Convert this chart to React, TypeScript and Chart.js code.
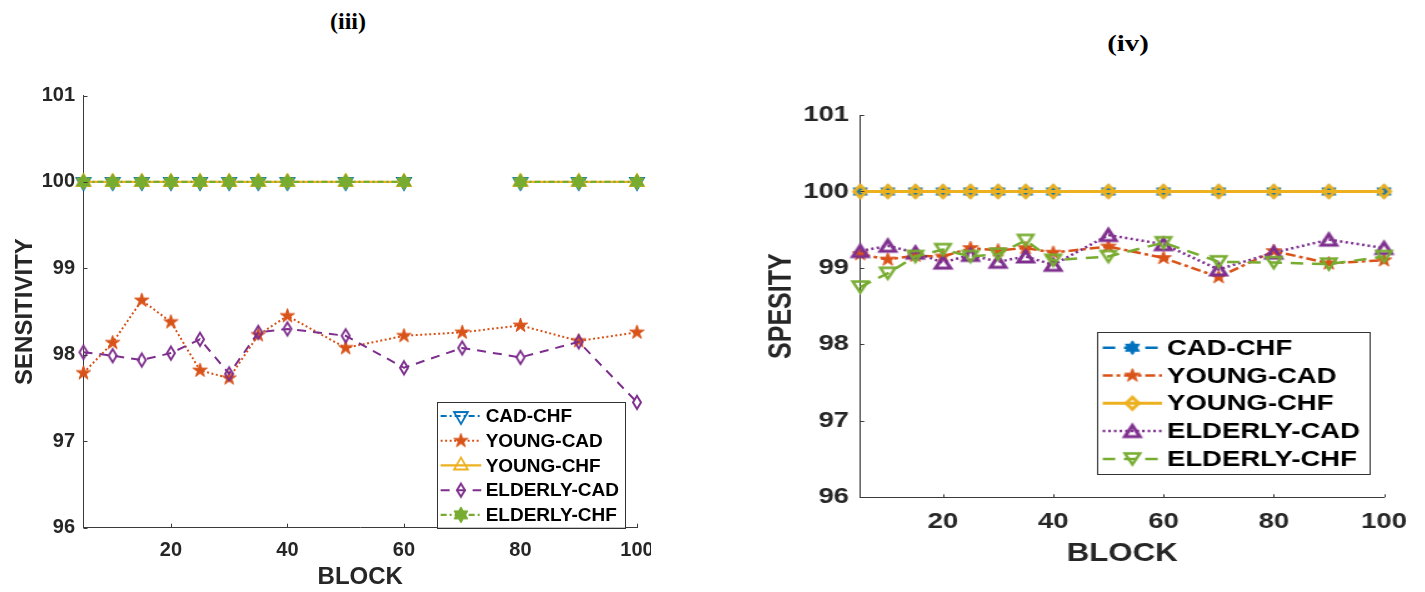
import React, { useEffect, useRef } from "react";
import { Chart, registerables } from "chart.js";

Chart.register(...registerables);

// ---------------- data ----------------
const BLOCKS = [5, 10, 15, 20, 25, 30, 35, 40, 50, 60, 70, 80, 90, 100];
const X_MIN = 5;
const X_MAX = 100;
const X_TICKS = [20, 40, 60, 80, 100];
const Y_MIN = 96;
const Y_MAX = 101;
const Y_TICKS = [96, 97, 98, 99, 100, 101];

const SERIES_NAMES = ["CAD-CHF", "YOUNG-CAD", "YOUNG-CHF", "ELDERLY-CAD", "ELDERLY-CHF"];

// (iii) SENSITIVITY
const SENS_CAD_CHF = [100, 100, 100, 100, 100, 100, 100, 100, 100, 100, null, 100, 100, 100];
const SENS_YOUNG_CAD = [97.79, 98.14, 98.63, 98.38, 97.82, 97.73, 98.23, 98.45, 98.08, 98.22, 98.26, 98.34, 98.16, 98.26];
const SENS_YOUNG_CHF = [100, 100, 100, 100, 100, 100, 100, 100, 100, 100, null, 100, 100, 100];
const SENS_ELDERLY_CAD = [98.03, 97.99, 97.94, 98.02, 98.18, 97.78, 98.26, 98.3, 98.22, 97.85, 98.08, 97.97, 98.15, 97.45];
const SENS_ELDERLY_CHF = [100, 100, 100, 100, 100, 100, 100, 100, 100, 100, null, 100, 100, 100];

// (iv) SPESITY
const SPEC_CAD_CHF = [100, 100, 100, 100, 100, 100, 100, 100, 100, 100, 100, 100, 100, 100];
const SPEC_YOUNG_CAD = [99.18, 99.11, 99.16, 99.15, 99.26, 99.23, 99.26, 99.2, 99.28, 99.13, 98.88, 99.22, 99.06, 99.1];
const SPEC_YOUNG_CHF = [100, 100, 100, 100, 100, 100, 100, 100, 100, 100, 100, 100, 100, 100];
const SPEC_ELDERLY_CAD = [99.22, 99.29, 99.2, 99.07, 99.17, 99.08, 99.15, 99.04, 99.43, 99.31, 98.98, 99.2, 99.37, 99.26];
const SPEC_ELDERLY_CHF = [98.75, 98.93, 99.15, 99.24, 99.15, 99.18, 99.36, 99.1, 99.15, 99.33, 99.08, 99.07, 99.05, 99.15];

// ---------------- styles ----------------
const BLUE = "#0072BD";
const ORANGE = "#D95319";
const YELLOW = "#EDB120";
const PURPLE = "#7E2F8E";
const GREEN = "#77AC30";
const TEXT = "#262626";
const AXIS = "#3a3a3a";
const FONT = "'Liberation Sans', Arial, Helvetica, sans-serif";

type Marker = { shape: string; w: number; h: number; filled: boolean; lw: number };
type Series = { label: string; values: (number | null)[]; color: string; dash: number[]; lw: number; marker: Marker };

const LEFT_SERIES: Series[] = [
  { label: SERIES_NAMES[0], values: SENS_CAD_CHF, color: BLUE, dash: [6, 3, 2, 3], lw: 2, marker: { shape: "eqDown", w: 16, h: 16, filled: false, lw: 1.8 } },
  { label: SERIES_NAMES[1], values: SENS_YOUNG_CAD, color: ORANGE, dash: [2, 2.5], lw: 2, marker: { shape: "star5", w: 15, h: 15, filled: true, lw: 1 } },
  { label: SERIES_NAMES[2], values: SENS_YOUNG_CHF, color: YELLOW, dash: [], lw: 2.2, marker: { shape: "eqUp", w: 16, h: 16, filled: false, lw: 1.8 } },
  { label: SERIES_NAMES[3], values: SENS_ELDERLY_CAD, color: PURPLE, dash: [9, 7], lw: 2, marker: { shape: "diamond", w: 8, h: 13, filled: false, lw: 2 } },
  { label: SERIES_NAMES[4], values: SENS_ELDERLY_CHF, color: GREEN, dash: [6, 3, 2, 3], lw: 2.2, marker: { shape: "star6", w: 16, h: 16, filled: true, lw: 1 } },
];

const RIGHT_SERIES: Series[] = [
  { label: SERIES_NAMES[0], values: SPEC_CAD_CHF, color: BLUE, dash: [10, 7], lw: 2.5, marker: { shape: "star6", w: 13, h: 14, filled: true, lw: 1 } },
  { label: SERIES_NAMES[1], values: SPEC_YOUNG_CAD, color: ORANGE, dash: [8, 3, 3, 3], lw: 2.5, marker: { shape: "star5", w: 13, h: 14, filled: true, lw: 1 } },
  { label: SERIES_NAMES[2], values: SPEC_YOUNG_CHF, color: YELLOW, dash: [], lw: 3, marker: { shape: "diamond", w: 10, h: 12, filled: false, lw: 3 } },
  { label: SERIES_NAMES[3], values: SPEC_ELDERLY_CAD, color: PURPLE, dash: [2, 2.5], lw: 2.5, marker: { shape: "triUp", w: 12, h: 11, filled: false, lw: 3 } },
  { label: SERIES_NAMES[4], values: SPEC_ELDERLY_CHF, color: GREEN, dash: [10, 7], lw: 2.5, marker: { shape: "triDown", w: 12, h: 11, filled: false, lw: 2.4 } },
];

const LEFT_SPEC = {
  series: LEFT_SERIES,
  yTitle: "SENSITIVITY",
  top: 95.5,
  padRight: 14,
  yAxisW: 83.5,
  xAxisH: 64.3,
  tickFontSize: 20,
  titleFontSize: 24,
  tickPadY: 8.5,
  tickPadX: 10.5,
  yTitlePadT: 10.6,
  xTitlePadB: 0,
  tickLenX: 4,
  tickLenY: 4,
  legend: { fontSize: 19, rowH: 24.7, padT: 2, padB: 0.5, padL: 3.7, sampleW: 40.6, gap: 4.4, padR: 6, offRight: 12, offBottom: 0 },
};

const RIGHT_SPEC = {
  series: RIGHT_SERIES,
  yTitle: "SPESITY",
  top: 115,
  padRight: 32.4,
  yAxisW: 118.6,
  xAxisH: 94.7,
  tickFontSize: 22,
  titleFontSize: 25,
  tickPadY: 9,
  tickPadX: 11.2,
  yTitlePadT: 41,
  xTitlePadB: 23,
  tickLenX: 3,
  tickLenY: 3.2,
  legend: { fontSize: 22, rowH: 27.8, padT: 2, padB: 0.5, padL: 4.6, sampleW: 47.4, gap: 4, padR: 8, offRight: 11.2, offBottom: 24 },
};

// ---------------- helpers ----------------
function polar(r: number, rx: number, ry: number, degs: number[]): [number, number][] {
  return degs.map((d) => {
    const a = (d * Math.PI) / 180;
    return [rx * r * Math.cos(a), ry * r * Math.sin(a)] as [number, number];
  });
}

function shapePoints(shape: string, rx: number, ry: number): [number, number][] {
  if (shape === "triUp") return [[0, -ry], [rx, ry], [-rx, ry]];
  if (shape === "triDown") return [[0, ry], [rx, -ry], [-rx, -ry]];
  if (shape === "eqUp") return polar(1, rx, ry, [-90, 30, 150]);
  if (shape === "eqDown") return polar(1, rx, ry, [90, -30, 210]);
  if (shape === "diamond") return [[0, -ry], [rx, 0], [0, ry], [-rx, 0]];
  const pts: [number, number][] = [];
  const n = shape === "star5" ? 5 : 6;
  const inner = shape === "star5" ? 0.382 : 0.577;
  for (let k = 0; k < n * 2; k++) {
    const a = -Math.PI / 2 + (k * Math.PI) / n;
    const r = k % 2 === 0 ? 1 : inner;
    pts.push([rx * r * Math.cos(a), ry * r * Math.sin(a)]);
  }
  return pts;
}

function makeMarker(m: Marker, color: string): HTMLCanvasElement {
  const pad = m.lw + 3;
  const cw = Math.ceil(m.w + pad * 2);
  const ch = Math.ceil(m.h + pad * 2);
  const c = document.createElement("canvas");
  c.width = cw;
  c.height = ch;
  const g = c.getContext("2d")!;
  g.translate(cw / 2, ch / 2);
  const pts = shapePoints(m.shape, m.w / 2, m.h / 2);
  g.beginPath();
  pts.forEach(([x, y], i) => (i ? g.lineTo(x, y) : g.moveTo(x, y)));
  g.closePath();
  g.lineJoin = "miter";
  if (m.filled) {
    g.fillStyle = color;
    g.fill();
  }
  g.strokeStyle = color;
  g.lineWidth = m.lw;
  g.stroke();
  return c;
}

function inwardTicks(lenX: number, lenY: number) {
  return {
    id: "inwardTicks",
    afterDatasetsDraw(chart: any) {
      const { ctx, chartArea, scales } = chart;
      ctx.save();
      ctx.strokeStyle = AXIS;
      ctx.lineWidth = 1;
      ctx.beginPath();
      scales.x.ticks.forEach((t: any) => {
        const px = Math.round(scales.x.getPixelForValue(t.value)) + 0.5;
        ctx.moveTo(px, chartArea.bottom);
        ctx.lineTo(px, chartArea.bottom - lenX);
      });
      scales.y.ticks.forEach((t: any) => {
        const py = Math.round(scales.y.getPixelForValue(t.value)) + 0.5;
        ctx.moveTo(chartArea.left, py);
        ctx.lineTo(chartArea.left + lenY, py);
      });
      ctx.stroke();
      ctx.restore();
    },
  };
}

function cornerLegend(cfg: any) {
  return {
    id: "cornerLegend",
    afterDraw(chart: any) {
      const { ctx, chartArea } = chart;
      const ds = chart.data.datasets;
      ctx.save();
      ctx.font = `bold ${cfg.fontSize}px ${FONT}`;
      const textW = Math.max(...ds.map((d: any) => ctx.measureText(d.label).width));
      const boxW = cfg.padL + cfg.sampleW + cfg.gap + textW + cfg.padR;
      const boxH = cfg.padT + ds.length * cfg.rowH + cfg.padB;
      const right = chartArea.right - cfg.offRight;
      const bottom = chartArea.bottom - cfg.offBottom;
      const left = right - boxW;
      const top = bottom - boxH;
      ctx.fillStyle = "#ffffff";
      ctx.fillRect(left, top, boxW, boxH);
      ctx.strokeStyle = "#333333";
      ctx.lineWidth = 1;
      ctx.strokeRect(Math.round(left) + 0.5, Math.round(top) + 0.5, Math.round(boxW), Math.round(boxH));
      ds.forEach((d: any, i: number) => {
        const cy = top + cfg.padT + cfg.rowH * (i + 0.5);
        const x0 = left + cfg.padL;
        const x1 = x0 + cfg.sampleW;
        ctx.setLineDash(d.borderDash || []);
        ctx.strokeStyle = d.borderColor;
        ctx.lineWidth = d.borderWidth;
        ctx.beginPath();
        ctx.moveTo(x0, cy);
        ctx.lineTo(x1, cy);
        ctx.stroke();
        ctx.setLineDash([]);
        const img = d.pointStyle;
        ctx.drawImage(img, (x0 + x1) / 2 - img.width / 2, cy - img.height / 2);
        ctx.fillStyle = "#000000";
        ctx.textAlign = "left";
        ctx.textBaseline = "middle";
        ctx.fillText(d.label, x1 + cfg.gap, cy + 1);
      });
      ctx.restore();
    },
  };
}

function makeChart(canvas: HTMLCanvasElement, spec: any) {
  const n = spec.series.length;
  const datasets = spec.series.map((s: Series, i: number) => ({
    label: s.label,
    data: BLOCKS.map((b, j) => ({ x: b, y: s.values[j] })),
    borderColor: s.color,
    backgroundColor: s.color,
    borderWidth: s.lw,
    borderDash: s.dash,
    pointStyle: makeMarker(s.marker, s.color),
    pointRadius: 6,
    pointHoverRadius: 6,
    tension: 0,
    fill: false,
    clip: false,
    spanGaps: false,
    order: n - i,
  }));
  const tickFont = { family: FONT, size: spec.tickFontSize, weight: "bold" as const };
  const titleFont = { family: FONT, size: spec.titleFontSize, weight: "bold" as const };
  return new Chart(canvas, {
    type: "line",
    data: { datasets },
    options: {
      responsive: false,
      maintainAspectRatio: false,
      animation: false,
      events: [],
      layout: { padding: { left: 0, top: spec.top, right: spec.padRight, bottom: 0 } },
      plugins: { legend: { display: false }, title: { display: false }, tooltip: { enabled: false } },
      scales: {
        x: {
          type: "linear",
          min: X_MIN,
          max: X_MAX,
          afterBuildTicks: (s: any) => {
            s.ticks = X_TICKS.map((v) => ({ value: v }));
          },
          afterFit: (s: any) => {
            s.height = spec.xAxisH;
            s.paddingLeft = 0;
            s.paddingRight = 0;
          },
          grid: { display: false, drawTicks: false },
          border: { display: true, color: AXIS, width: 1 },
          ticks: { font: tickFont, color: TEXT, padding: spec.tickPadX, autoSkip: false, maxRotation: 0, minRotation: 0 },
          title: { display: true, text: "BLOCK", font: titleFont, color: TEXT, padding: { top: 0, bottom: spec.xTitlePadB } },
        },
        y: {
          type: "linear",
          min: Y_MIN,
          max: Y_MAX,
          afterBuildTicks: (s: any) => {
            s.ticks = Y_TICKS.map((v) => ({ value: v }));
          },
          afterFit: (s: any) => {
            s.width = spec.yAxisW;
          },
          grid: { display: false, drawTicks: false },
          border: { display: true, color: AXIS, width: 1 },
          ticks: { font: tickFont, color: TEXT, padding: spec.tickPadY, autoSkip: false },
          title: { display: true, text: spec.yTitle, font: titleFont, color: TEXT, padding: { top: spec.yTitlePadT, bottom: 0 } },
        },
      },
    } as any,
    plugins: [inwardTicks(spec.tickLenX, spec.tickLenY), cornerLegend(spec.legend)],
  });
}

function titleStyle(cx: number, cy: number, size: number, stretch: number): React.CSSProperties {
  return {
    position: "absolute",
    left: cx,
    top: cy,
    transform: `translate(-50%, -50%) scaleX(${stretch})`,
    fontFamily: "'Liberation Serif', 'Times New Roman', serif",
    fontWeight: "bold",
    fontSize: size,
    lineHeight: 1,
    color: "#000",
    whiteSpace: "nowrap",
  };
}

export default function App() {
  const leftRef = useRef<HTMLCanvasElement>(null);
  const rightRef = useRef<HTMLCanvasElement>(null);
  useEffect(() => {
    const c1 = makeChart(leftRef.current!, LEFT_SPEC);
    const c2 = makeChart(rightRef.current!, RIGHT_SPEC);
    return () => {
      c1.destroy();
      c2.destroy();
    };
  }, []);
  return (
    <div style={{ position: "absolute", left: 0, top: 0, width: 1425, height: 592, background: "#fff", overflow: "hidden" }}>
      <div style={titleStyle(348, 21, 24, 1)}>(iii)</div>
      <div style={titleStyle(1128, 43, 23, 1.25)}>(iv)</div>
      <canvas ref={leftRef} width={651} height={592} style={{ position: "absolute", left: 0, top: 0 }} />
      <canvas
        ref={rightRef}
        width={570}
        height={592}
        style={{ position: "absolute", left: 712, top: 0, transform: "scaleX(1.25)", transformOrigin: "0 0" }}
      />
    </div>
  );
}
